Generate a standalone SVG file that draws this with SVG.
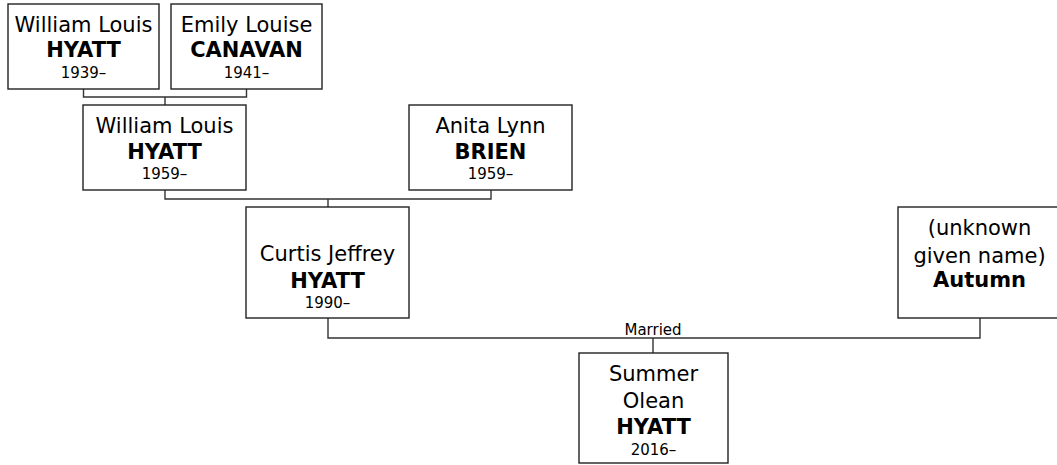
<svg xmlns="http://www.w3.org/2000/svg" width="1057" height="465" viewBox="0 0 1057 465">
<style>
.box{fill:#fff;stroke:#222;stroke-width:1.4}
.ln{fill:none;stroke:#333;stroke-width:1.4}
text{font-family:"DejaVu Sans",Verdana,sans-serif;fill:#000;text-anchor:middle}
.nm{font-size:21px}
.sn{font-size:21px;font-weight:bold}
.dt{font-size:15px}
.lb{font-size:15px}
</style>
<rect width="1057" height="465" fill="#fff"/>
<g id="connectors">
<path class="ln" d="M83.5,89 V97 H246.5 V89 M165,97 V105"/>
<path class="ln" d="M165,190 V199 H491 V190 M328,199 V207"/>
<path class="ln" d="M328,318 V338 H980 V318 M653,338 V353"/>
<text class="lb" x="653" y="335">Married</text>
</g>
<g id="p1">
<rect class="box" x="8" y="4" width="151" height="85"/>
<text class="nm" x="83.5" y="32">William Louis</text>
<text class="sn" x="83.5" y="57">HYATT</text>
<text class="dt" x="83.5" y="78">1939–</text>
</g>
<g id="p2">
<rect class="box" x="171" y="4" width="151" height="85"/>
<text class="nm" x="246.5" y="32">Emily Louise</text>
<text class="sn" x="246.5" y="57">CANAVAN</text>
<text class="dt" x="246.5" y="78">1941–</text>
</g>
<g id="p3">
<rect class="box" x="83" y="105" width="163" height="85"/>
<text class="nm" x="164.5" y="133">William Louis</text>
<text class="sn" x="164.5" y="159">HYATT</text>
<text class="dt" x="164.5" y="179">1959–</text>
</g>
<g id="p4">
<rect class="box" x="409" y="105" width="163" height="85"/>
<text class="nm" x="490.5" y="133">Anita Lynn</text>
<text class="sn" x="490.5" y="159">BRIEN</text>
<text class="dt" x="490.5" y="179">1959–</text>
</g>
<g id="p5">
<rect class="box" x="246" y="207" width="163" height="111"/>
<text class="nm" x="327.5" y="261">Curtis Jeffrey</text>
<text class="sn" x="327.5" y="288">HYATT</text>
<text class="dt" x="327.5" y="308">1990–</text>
</g>
<g id="p6">
<rect class="box" x="898" y="207" width="163" height="111"/>
<text class="nm" x="979.5" y="235">(unknown</text>
<text class="nm" x="979.5" y="263">given name)</text>
<text class="sn" x="979.5" y="287">Autumn</text>
</g>
<g id="p7">
<rect class="box" x="579" y="353" width="149" height="110"/>
<text class="nm" x="653.5" y="381">Summer</text>
<text class="nm" x="653.5" y="408">Olean</text>
<text class="sn" x="653.5" y="434">HYATT</text>
<text class="dt" x="653.5" y="455">2016–</text>
</g>
</svg>
